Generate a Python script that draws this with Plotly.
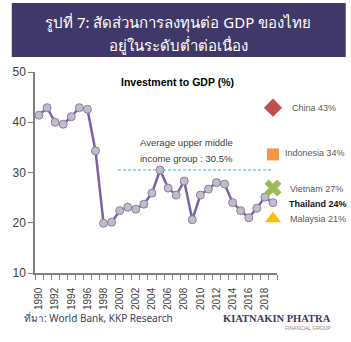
import plotly.graph_objects as go

years = list(range(1990, 2020))
thailand = [41.4, 42.9, 40.0, 39.6, 41.1, 42.9, 42.6, 34.3, 19.9, 20.1,
            22.4, 23.1, 22.7, 23.7, 25.9, 30.5, 26.9, 25.5, 28.3, 20.6,
            25.5, 26.7, 28.0, 27.7, 24.0, 22.4, 21.0, 22.9, 25.1, 24.0]

peer_names = ["China", "Indonesia", "Vietnam", "Malaysia"]
peer_values = [43, 34, 27, 21]
peer_marker_y = [42.9, 33.6, 26.9, 20.8]
peer_symbols = ["diamond", "square", "x", "triangle-up"]
peer_colors = ["#C0504D", "#F79646", "#9BBB59", "#FFC000"]
peer_sizes = [14, 12, 15, 14]
peer_label_y = [42.8, 33.9, 26.7, 20.75]
peer_label_x = [290, 283, 288, 288]

avg_value = 30.5
avg_years = [1999.8, 2019]

tick_years = list(range(1990, 2019, 2))

L, R, T, B = 27, 277, 72, 273
W, H = 351, 342

def px(xpix):
    return (xpix - L) / (R - L)

def py(ypix):
    return (B - ypix) / (B - T)

fig = go.Figure()

fig.add_trace(go.Scatter(
    x=avg_years, y=[avg_value, avg_value], mode="lines",
    line=dict(color="#4BACC6", width=1, dash="3px,2px"),
    hoverinfo="skip", showlegend=False))

fig.add_trace(go.Scatter(
    x=years, y=thailand, mode="lines+markers",
    line=dict(color="#7B62A8", width=2.5),
    marker=dict(size=8, color="#BFBFBF", line=dict(color="#8E7BB5", width=1)),
    showlegend=False, cliponaxis=False))

for n, v, my, s, c, sz in zip(peer_names, peer_values, peer_marker_y, peer_symbols, peer_colors, peer_sizes):
    mk = dict(symbol=s, size=sz, color=c)
    if s == "x":
        mk["line"] = dict(width=0)
    fig.add_trace(go.Scatter(x=[years[-1]], y=[my], mode="markers", marker=mk,
                             showlegend=False, cliponaxis=False))

ann = []
for n, v, ly, lx in zip(peer_names, peer_values, peer_label_y, peer_label_x):
    ann.append(dict(x=px(lx), xref="paper", y=ly, yref="y", xanchor="left", yanchor="middle",
                    text=f"{n} {v}%", showarrow=False,
                    font=dict(family="Liberation Sans, Arial", size=9, color="#595959")))
ann.append(dict(x=px(287), xref="paper", y=23.7, yref="y", xanchor="left", yanchor="middle",
                text=f"<b>Thailand {thailand[-1]:.0f}%</b>", showarrow=False,
                font=dict(family="Liberation Sans, Arial", size=9, color="#111111")))
ann.append(dict(x=px(184), xref="paper", y=35.9, yref="y", xanchor="center", yanchor="middle",
                text="Average upper middle", showarrow=False,
                font=dict(family="Liberation Sans, Arial", size=9.5, color="#404040")))
ann.append(dict(x=px(184), xref="paper", y=32.7, yref="y", xanchor="center", yanchor="middle",
                text=f"income group : {avg_value}%", showarrow=False,
                font=dict(family="Liberation Sans, Arial", size=9.5, color="#404040")))
ann.append(dict(x=px(174), xref="paper", y=py(82), yref="paper", xanchor="center", yanchor="middle",
                text="<b>Investment to GDP (%)</b>", showarrow=False,
                font=dict(family="Liberation Sans, Arial", size=10.5, color="#000000")))
ann.append(dict(x=px(175), xref="paper", y=py(22), yref="paper", xanchor="center", yanchor="middle",
                text="รูปที่ 7: สัดส่วนการลงทุนต่อ GDP ของไทย", showarrow=False,
                font=dict(family="Noto Sans, sans-serif", size=15, color="#FFFFFF")))
ann.append(dict(x=px(175), xref="paper", y=py(45), yref="paper", xanchor="center", yanchor="middle",
                text="อยู่ในระดับต่ำต่อเนื่อง", showarrow=False,
                font=dict(family="Noto Sans, sans-serif", size=15, color="#FFFFFF")))
ann.append(dict(x=px(14), xref="paper", y=py(318), yref="paper", xanchor="left", yanchor="middle",
                text="ที่มา: World Bank, KKP Research", showarrow=False,
                font=dict(family="Noto Sans, sans-serif", size=10, color="#404060")))
ann.append(dict(x=px(335), xref="paper", y=py(318), yref="paper", xanchor="right", yanchor="middle",
                text="<b>KIATNAKIN PHATRA</b>", showarrow=False,
                font=dict(family="Liberation Serif, serif", size=10.5, color="#3F3862")))
ann.append(dict(x=px(335), xref="paper", y=py(328), yref="paper", xanchor="right", yanchor="middle",
                text="FINANCIAL GROUP", showarrow=False,
                font=dict(family="Liberation Sans, Arial", size=5, color="#888888")))

fig.update_layout(
    width=W, height=H, autosize=False,
    margin=dict(l=L, r=W - R, t=T, b=H - B, pad=0),
    paper_bgcolor="white", plot_bgcolor="white",
    annotations=ann,
    shapes=[dict(type="rect", xref="paper", yref="paper", x0=px(3), x1=px(348),
                 y0=py(57), y1=py(3), fillcolor="#403868", line=dict(width=0), layer="below")],
    xaxis=dict(range=[1989.5, 2019.5], tickmode="array", tickvals=tick_years,
               ticktext=[str(y) for y in tick_years], tickangle=-90,
               ticks="", ticklabelstandoff=9, showline=True, linecolor="#808080", linewidth=1.5,
               showgrid=False, zeroline=False,
               tickfont=dict(family="Liberation Sans, Arial", size=10, color="#404040"),
               minor=dict(tickmode="linear", tick0=1989.5, dtick=1, ticks="outside",
                          ticklen=5, tickcolor="#808080", tickwidth=1, showgrid=False)),
    yaxis=dict(range=[10, 50], tickvals=[10, 20, 30, 40, 50], ticks="outside", ticklen=5,
               tickcolor="#808080", showline=True, linecolor="#808080", linewidth=1.5,
               showgrid=False, zeroline=False,
               tickfont=dict(family="Liberation Sans, Arial", size=12, color="#404040")),
)

fig.write_html("out.html")
